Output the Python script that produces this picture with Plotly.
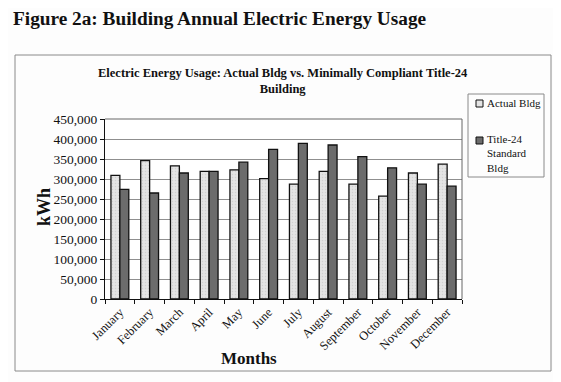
import plotly.graph_objects as go

months = ["January", "February", "March", "April", "May", "June", "July",
          "August", "September", "October", "November", "December"]
actual_bldg = [309000, 346000, 333000, 319000, 323000, 301000, 287000,
               319000, 287000, 257000, 315000, 337000]
title24_bldg = [274000, 265000, 315000, 319000, 342000, 374000, 389000,
                385000, 356000, 328000, 287000, 282000]
y_ticks = [0, 50000, 100000, 150000, 200000, 250000, 300000, 350000, 400000, 450000]

# page has an 8px body margin; lay out in reference pixels and shift
O = 8
W, H = 561 - O, 382 - O
L, R, T, B = 105 - O, 462 - O, 119 - O, 299 - O


def px(x):
    return (x - O - L) / (R - L)


def py(y):
    return (B - (y - O)) / (B - T)


serif = "Liberation Serif, Times New Roman, serif"
ink = "#111111"

fig = go.Figure()
fig.add_trace(go.Bar(
    x=months, y=actual_bldg, name="Actual Bldg",
    marker=dict(color="#e4e4e4", line=dict(color=ink, width=1.3),
                pattern=dict(shape=".", fgcolor="#bdbdbd", size=3, solidity=0.2)),
))
fig.add_trace(go.Bar(
    x=months, y=title24_bldg, name="Title-24 Standard Bldg",
    marker=dict(color="#6c6c6c", line=dict(color=ink, width=1.3)),
))

fig.update_layout(
    width=W, height=H,
    margin=dict(l=L, r=W - R, t=T, b=H - B, autoexpand=False),
    paper_bgcolor="#fdfdfd", plot_bgcolor="#ffffff",
    barmode="group", bargap=0.40, bargroupgap=0.0,
    font=dict(family=serif, color=ink),
    showlegend=False,
    xaxis=dict(type="category", tickangle=-45, tickfont=dict(size=12.5, family=serif),
               showline=True, linecolor=ink, linewidth=1,
               ticks="outside", ticklen=4, tickcolor=ink, tickson="boundaries",
               showgrid=False),
    yaxis=dict(range=[0, 450000], tickvals=y_ticks, tickformat=",",
               tickfont=dict(size=13.5, family=serif),
               showline=True, linecolor=ink, linewidth=1,
               ticks="outside", ticklen=4, tickcolor=ink,
               showgrid=True, gridcolor="#8f8f8f", gridwidth=1, zeroline=False),
)

shapes = [
    # outer chart frame
    dict(type="rect", xref="paper", yref="paper", x0=px(15), x1=px(551), y0=py(371), y1=py(55),
         line=dict(color="#8a8a8a", width=1), fillcolor="rgba(0,0,0,0)", layer="below"),
    # plot area border top/right
    dict(type="line", xref="paper", yref="paper", x0=0, x1=1, y0=1, y1=1,
         line=dict(color="#666666", width=1)),
    dict(type="line", xref="paper", yref="paper", x0=1, x1=1, y0=0, y1=1,
         line=dict(color="#666666", width=1)),
    # legend box
    dict(type="rect", xref="paper", yref="paper", x0=px(468), x1=px(544), y0=py(177), y1=py(94),
         line=dict(color="#8a8a8a", width=1), fillcolor="rgba(0,0,0,0)"),
    # legend swatches
    dict(type="rect", xref="paper", yref="paper", x0=px(476), x1=px(483), y0=py(107), y1=py(100),
         line=dict(color=ink, width=1), fillcolor="#e4e4e4"),
    dict(type="rect", xref="paper", yref="paper", x0=px(476), x1=px(483), y0=py(144), y1=py(137),
         line=dict(color=ink, width=1), fillcolor="#6c6c6c"),
]
fig.update_layout(shapes=shapes)

annotations = [
    dict(text="<b>Figure 2a: Building Annual Electric Energy Usage</b>", xref="paper", yref="paper",
         x=px(11), y=py(18), xanchor="left", yanchor="middle", showarrow=False,
         font=dict(size=19.3, family=serif, color=ink)),
    dict(text="<b>Electric Energy Usage: Actual Bldg vs. Minimally Compliant Title-24<br>Building</b>",
         xref="paper", yref="paper", x=px(283), y=py(81), xanchor="center", yanchor="middle",
         showarrow=False, font=dict(size=12.5, family=serif, color=ink)),
    dict(text="<b>kWh</b>", xref="paper", yref="paper", x=px(44), y=py(207), textangle=-90,
         xanchor="center", yanchor="middle", showarrow=False,
         font=dict(size=18, family=serif, color=ink)),
    dict(text="<b>Months</b>", xref="paper", yref="paper", x=px(249), y=py(358),
         xanchor="center", yanchor="middle", showarrow=False,
         font=dict(size=17, family=serif, color=ink)),
    dict(text="Actual Bldg", xref="paper", yref="paper", x=px(485), y=py(103),
         xanchor="left", yanchor="middle", showarrow=False,
         font=dict(size=11, family=serif, color=ink)),
    dict(text="Title-24<br>Standard<br>Bldg", xref="paper", yref="paper", x=px(485), y=py(153),
         xanchor="left", yanchor="middle", align="left", showarrow=False,
         font=dict(size=11, family=serif, color=ink)),
]
fig.update_layout(annotations=annotations)

fig.write_html("out.html")
